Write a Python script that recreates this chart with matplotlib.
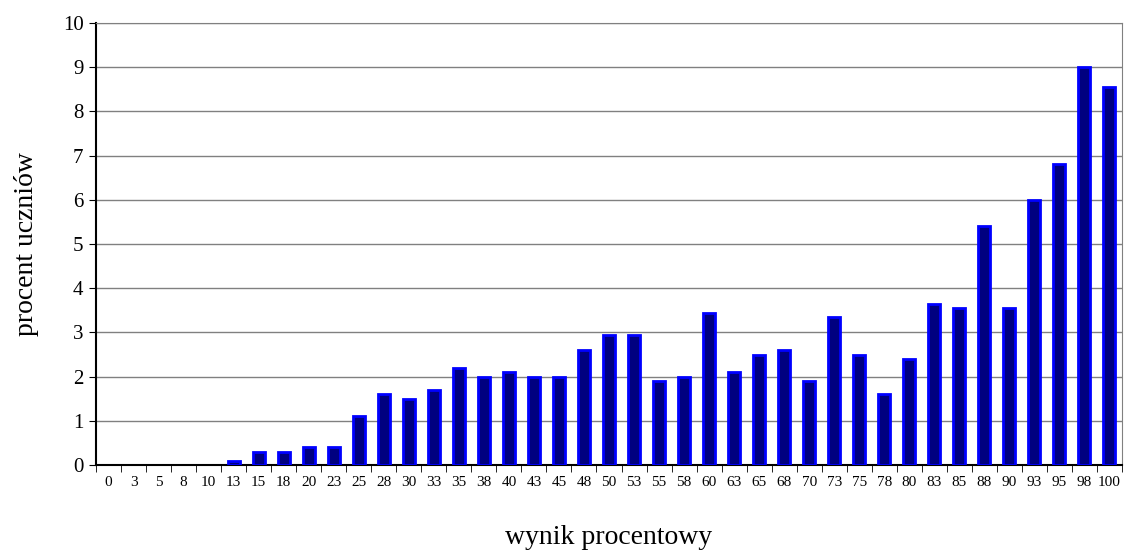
import numpy as np
import matplotlib.pyplot as plt
from matplotlib.ticker import MultipleLocator

plt.rcParams['font.family'] = ['Liberation Serif', 'DejaVu Serif']

# Score categories (percent result) and share of students
scores = [0, 3, 5, 8, 10, 13, 15, 18, 20, 23, 25, 28, 30, 33, 35, 38, 40, 43, 45, 48,
          50, 53, 55, 58, 60, 63, 65, 68, 70, 73, 75, 78, 80, 83, 85, 88, 90, 93, 95, 98, 100]
percent = [0, 0, 0, 0, 0, 0.1, 0.3, 0.3, 0.4, 0.4, 1.1, 1.6, 1.5, 1.7, 2.2, 2.0, 2.1, 2.0, 2.0, 2.6,
           2.95, 2.95, 1.9, 2.0, 3.45, 2.1, 2.5, 2.6, 1.9, 3.35, 2.5, 1.6, 2.4, 3.65, 3.55, 5.4,
           3.55, 6.0, 6.8, 9.0, 8.55]

x = np.arange(len(scores))

fig = plt.figure(figsize=(11.26, 5.54), dpi=100)
ax = fig.add_axes([96 / 1126, 1 - 465 / 554, 1026 / 1126, 442 / 554])

# no outline on empty bars
lw = [2.0 if v > 0 else 0 for v in percent]
ax.bar(x, percent, width=0.48, color='#000080', edgecolor='#0000FF', linewidth=lw, zorder=3)

ax.set_xlim(-0.5, len(scores) - 0.5)
ax.set_ylim(0, 10)
ax.yaxis.set_major_locator(MultipleLocator(1))
ax.grid(axis='y', color='#808080', linewidth=1.0, zorder=0)

ax.set_xticks(x)
ax.set_xticklabels([str(s) for s in scores], fontsize=11)
ax.set_xticks(np.arange(len(scores) + 1) - 0.5, minor=True)
ax.tick_params(axis='x', which='major', length=0, pad=8)
ax.tick_params(axis='x', which='minor', length=5, color='black', direction='out')
ax.tick_params(axis='y', length=5, labelsize=15, pad=4)

for side in ['top', 'right']:
    ax.spines[side].set_color('#808080')
for side in ['left', 'bottom']:
    ax.spines[side].set_color('black')
    ax.spines[side].set_linewidth(1.5)

ax.set_ylabel('procent uczniów', fontsize=20)
ax.yaxis.set_label_coords(-0.056, 0.5)
ax.set_xlabel('wynik procentowy', fontsize=20)
ax.xaxis.set_label_coords(0.5, -0.135)

fig.savefig('out.png', dpi=100)
